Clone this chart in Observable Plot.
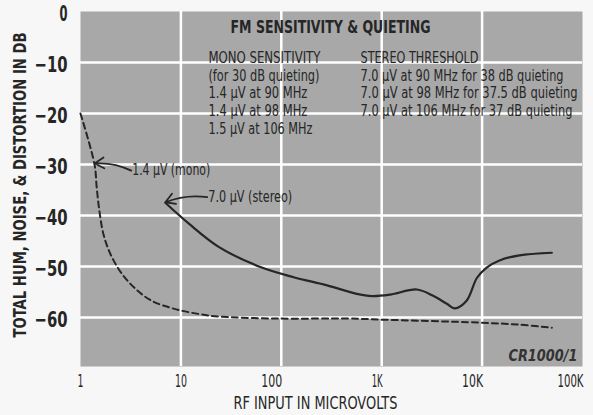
<!DOCTYPE html>
<html>
<head>
<meta charset="utf-8">
<script src="https://cdn.jsdelivr.net/npm/d3@7"></script>
<script src="https://cdn.jsdelivr.net/npm/@observablehq/plot@0.6"></script>
<style>
  html, body { margin: 0; padding: 0; background: #f7f7f7; }
  #chart svg { display: block; }
</style>
</head>
<body>
<div id="chart"></div>
<script>
// ---- data ----
const monoX = [1, 1.38, 1.45, 1.54, 1.69, 1.98, 2.58, 3.5, 5.1, 8.6, 15, 23.7, 91, 480, 960, 9460, 23600, 49500];
const monoY = [-20, -30, -34.5, -39, -43.6, -47.5, -51.4, -54.3, -56.7, -58.3, -59.3, -59.8, -60.2, -60.2, -60.4, -61, -61.4, -62];

const stereoX = [7, 12, 24, 62, 133, 286, 550, 800, 1220, 2240, 3220, 4450, 5350, 7000, 8900, 11100, 14900, 23600, 49500];
const stereoY = [-37.5, -41.6, -46.2, -50.1, -52.1, -53.7, -55.3, -55.8, -55.5, -54.5, -55.7, -57.3, -58.2, -56.7, -52.2, -50.2, -48.8, -47.8, -47.3];

const xTicks = [1, 10, 100, 1000, 10000, 100000];
const xTickLabels = ["1", "10", "100", "1K", "10K", "100K"];
const yTicks = [0, -10, -20, -30, -40, -50, -60];
const yTickLabels = ["0", "−10", "−20", "−30", "−40", "−50", "−60"];

const titleText = "FM SENSITIVITY & QUIETING";
const monoLines = ["MONO SENSITIVITY", "(for 30 dB quieting)", "1.4 µV at 90 MHz", "1.4 µV at 98 MHz", "1.5 µV at 106 MHz"];
const stereoLines = ["STEREO THRESHOLD", "7.0 µV at 90 MHz for 38 dB quieting", "7.0 µV at 98 MHz for 37.5 dB quieting", "7.0 µV at 106 MHz for 37 dB quieting"];
const xLabel = "RF INPUT IN MICROVOLTS";
const yLabel = "TOTAL HUM, NOISE, & DISTORTION IN DB";
const figId = "CR1000/1";

// annotation anchors in data space
const calloutLabels = ["1.4 µV (mono)", "7.0 µV (stereo)"];
const calloutFromX = [3.2, 18.3];
const calloutFromY = [-31.2, -36.4];
const calloutToX = [1.38, 7.0];
const calloutToY = [-29.8, -37.4];
const titleAt = {x: 309, y: -3.1};
const monoAt = {x: 18.8, y: -7.75};
const stereoAt = {x: 615, y: -7.75};
const figIdAt = {x: 89000, y: -67.6};

// ---- build tables ----
const mono = monoX.map((x, i) => ({x, y: monoY[i]}));
const stereo = stereoX.map((x, i) => ({x, y: stereoY[i]}));
const callouts = calloutLabels.map((t, i) => ({t, x1: calloutFromX[i], y1: calloutFromY[i], x2: calloutToX[i], y2: calloutToY[i]}));
const xLab = new Map(xTicks.map((t, i) => [t, xTickLabels[i]]));
const yLab = new Map(yTicks.map((t, i) => [t, yTickLabels[i]]));

const NARROW = "'DejaVu Sans Condensed', 'Liberation Sans Narrow', 'Roboto Condensed', sans-serif";
const INK = "#262626";

// rendered widths of the condensed lettering (style, in px)
const textWidths = new Map([
  [titleText, 200],
  ["MONO SENSITIVITY", 112], ["(for 30 dB quieting)", 111], ["1.4 µV at 90 MHz", 99], ["1.4 µV at 98 MHz", 99], ["1.5 µV at 106 MHz", 104],
  ["STEREO THRESHOLD", 118], ["7.0 µV at 90 MHz for 38 dB quieting", 203], ["7.0 µV at 98 MHz for 37.5 dB quieting", 217], ["7.0 µV at 106 MHz for 37 dB quieting", 212],
  ["1.4 µV (mono)", 78], ["7.0 µV (stereo)", 84], [figId, 69],
  [xLabel, 164], [yLabel, 305],
  ["0", 8], ["−10", 33], ["−20", 33], ["−30", 33], ["−40", 33], ["−50", 33], ["−60", 33],
  ["1", 6], ["10", 12], ["100", 21], ["1K", 11], ["10K", 21], ["100K", 26]
]);

const chart = Plot.plot({
  width: 593,
  height: 415,
  marginLeft: 80,
  marginRight: 11,
  marginTop: 11,
  marginBottom: 49,
  x: {type: "log", domain: [1, 100000]},
  y: {domain: [-69.6, 0]},
  style: {fontFamily: NARROW, background: "#f7f7f7", color: INK},
  marks: [
    Plot.frame({fill: "#a8a8a8", stroke: null}),
    Plot.gridX(xTicks.slice(1, -1), {stroke: "white", strokeOpacity: 1, strokeWidth: 2.5}),
    Plot.gridY(yTicks.slice(1), {stroke: "white", strokeOpacity: 1, strokeWidth: 2.5}),
    Plot.line(mono, {x: "x", y: "y", curve: "catmull-rom", stroke: INK, strokeWidth: 2, strokeDasharray: "6,4"}),
    Plot.line(stereo, {x: "x", y: "y", curve: "catmull-rom", stroke: INK, strokeWidth: 2.2}),
    Plot.arrow(callouts, {x1: "x1", y1: "y1", x2: "x2", y2: "y2", bend: -15, stroke: INK, strokeWidth: 1.8, headLength: 9}),
    Plot.text(callouts, {x: "x1", y: "y1", text: "t", textAnchor: "start", dx: 1, fontSize: 15, fill: INK}),
    Plot.text([titleText], {x: () => titleAt.x, y: () => titleAt.y, text: d => d, fontSize: 17.5, fontWeight: "bold", fill: INK}),
    Plot.text([monoLines.join("\n")], {x: () => monoAt.x, y: () => monoAt.y, text: d => d, textAnchor: "start", lineAnchor: "top", lineHeight: 1.13, fontSize: 15.5, fill: INK}),
    Plot.text([stereoLines.join("\n")], {x: () => stereoAt.x, y: () => stereoAt.y, text: d => d, textAnchor: "start", lineAnchor: "top", lineHeight: 1.13, fontSize: 15.5, fill: INK}),
    Plot.text([figId], {x: () => figIdAt.x, y: () => figIdAt.y, text: d => d, textAnchor: "end", fontSize: 15, fontStyle: "italic", fontWeight: "bold", fill: "#333"}),
    Plot.axisY(yTicks, {tickSize: 0, tickPadding: 13, tickFormat: d => yLab.get(d), fontSize: 21, fontWeight: "bold", dy: 3, label: null}),
    Plot.axisX(xTicks.slice(0, 2), {tickSize: 0, tickPadding: 8, tickFormat: d => xLab.get(d), fontSize: 18, label: null}),
    Plot.axisX(xTicks.slice(2), {tickSize: 0, tickPadding: 8, tickFormat: d => xLab.get(d), fontSize: 18, textAnchor: "end", dx: 1, label: null}),
    Plot.text([xLabel], {frameAnchor: "bottom", textAnchor: "middle", lineAnchor: "middle", dy: 37, dx: -16, text: d => d, fontSize: 17, fill: INK}),
    Plot.text([yLabel], {frameAnchor: "left", textAnchor: "middle", lineAnchor: "middle", dx: -60, dy: -4, rotate: -90, text: d => d, fontSize: 18.5, fontWeight: "bold", fill: INK})
  ]
});

// squeeze the lettering to the condensed widths of the original
d3.select(chart).selectAll("text, tspan").each(function () {
  if (this.tagName === "text" && this.querySelector("tspan")) return;
  const w = textWidths.get(this.textContent);
  if (w) {
    this.setAttribute("textLength", w);
    this.setAttribute("lengthAdjust", "spacingAndGlyphs");
  }
});

document.getElementById("chart").append(chart);
</script>
</body>
</html>
